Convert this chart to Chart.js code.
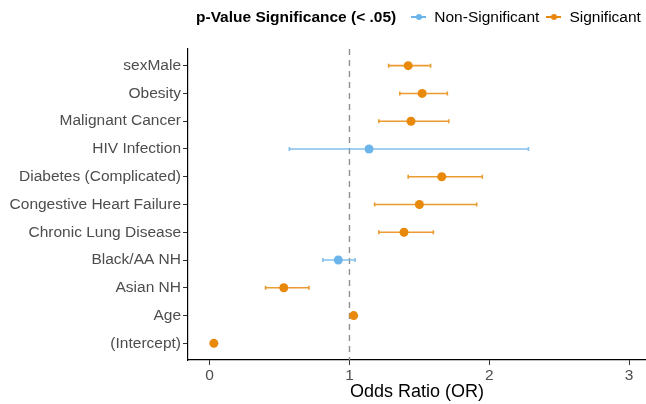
<!DOCTYPE html>
<html>
<head>
<meta charset="utf-8">
<script src="https://cdn.jsdelivr.net/npm/chart.js@4"></script>
<style>
  html, body { margin: 0; padding: 0; background: #fff; }
  #wrap { position: relative; width: 646px; height: 404px; font-family: "Liberation Sans", Arial, sans-serif; }
  #legend { position: absolute; top: 7px; left: 196px; height: 20px; display: flex; align-items: center; white-space: nowrap; font-size: 15.5px; color: #000; }
  #legend .ttl { font-weight: bold; margin-right: 15px; }
  #legend .key { position: relative; width: 15px; height: 20px; margin-right: 8px; }
  #legend .key .ln { position: absolute; left: 0; top: 9px; width: 15px; height: 2px; }
  #legend .key .dt { position: absolute; left: 4.5px; top: 7px; width: 6px; height: 6px; border-radius: 50%; }
  #legend .lbl { margin-right: 7px; }
</style>
</head>
<body>
<div id="wrap">
  <canvas id="forest" width="646" height="404"></canvas>
  <div id="legend"></div>
</div>
<script>
// terms, top to bottom
const terms = ["sexMale", "Obesity", "Malignant Cancer", "HIV Infection", "Diabetes (Complicated)",
  "Congestive Heart Failure", "Chronic Lung Disease", "Black/AA NH", "Asian NH", "Age", "(Intercept)"];
const oddsRatio = [1.42, 1.52, 1.44, 1.14, 1.66, 1.50, 1.39, 0.92, 0.53, 1.03, 0.03];
const ciLow = [1.28, 1.36, 1.21, 0.57, 1.42, 1.18, 1.21, 0.81, 0.40, 1.02, 0.02];
const ciHigh = [1.58, 1.70, 1.71, 2.28, 1.95, 1.91, 1.60, 1.04, 0.71, 1.04, 0.04];
const significant = [true, true, true, false, true, true, true, false, true, true, true];
const xTicks = [0, 1, 2, 3];

const colSig = "#E8890C";
const colNon = "#6CB5EA";
const font = "'Liberation Sans', Arial, sans-serif";

function pointsFor(flag) {
  const out = [];
  terms.forEach((t, i) => {
    if (significant[i] === flag) out.push({ x: oddsRatio[i], y: i, lo: ciLow[i], hi: ciHigh[i] });
  });
  return out;
}

// error bars + reference line, drawn with the chart's own scales
const forestLayer = {
  id: "forestLayer",
  beforeDatasetsDraw(chart) {
    const { ctx, chartArea, scales } = chart;
    const xs = scales.x, ys = scales.y;
    ctx.save();
    // dashed line at OR = 1
    const x1 = xs.getPixelForValue(1);
    ctx.strokeStyle = "#8f8f8f";
    ctx.lineWidth = 1.4;
    ctx.setLineDash([6, 5]);
    ctx.beginPath();
    ctx.moveTo(x1, chartArea.top);
    ctx.lineTo(x1, chartArea.bottom);
    ctx.stroke();
    ctx.setLineDash([]);
    // horizontal CI bars
    chart.data.datasets.forEach((ds) => {
      ctx.strokeStyle = ds.barColor;
      ctx.lineWidth = 1.6;
      ds.data.forEach((d) => {
        const y = ys.getPixelForValue(d.y);
        const a = xs.getPixelForValue(d.lo);
        const b = xs.getPixelForValue(d.hi);
        ctx.beginPath();
        ctx.moveTo(a, y); ctx.lineTo(b, y);
        ctx.moveTo(a, y - 2); ctx.lineTo(a, y + 2);
        ctx.moveTo(b, y - 2); ctx.lineTo(b, y + 2);
        ctx.stroke();
      });
    });
    ctx.restore();
  }
};

new Chart(document.getElementById("forest"), {
  type: "scatter",
  data: {
    datasets: [
      {
        label: "Non-Significant",
        data: pointsFor(false),
        backgroundColor: colNon,
        borderColor: colNon,
        barColor: "rgba(108, 181, 234, 0.85)",
        pointRadius: 4.5,
        borderWidth: 0,
      },
      {
        label: "Significant",
        data: pointsFor(true),
        backgroundColor: colSig,
        borderColor: colSig,
        barColor: "rgba(232, 137, 12, 0.85)",
        pointRadius: 4.5,
        borderWidth: 0,
      },
    ],
  },
  options: {
    responsive: false,
    animation: false,
    layout: { autoPadding: false, padding: { top: 49, right: 0, left: 0, bottom: 0 } },
    plugins: {
      legend: { display: false },
      tooltip: { enabled: false },
    },
    scales: {
      x: {
        type: "linear",
        min: -0.155,
        max: 3.121,
        afterBuildTicks: (s) => { s.ticks = xTicks.map((v) => ({ value: v })); },
        afterFit: (s) => { s.height = 44; s.paddingLeft = 0; s.paddingRight = 0; },
        ticks: {
          autoSkip: false,
          maxRotation: 0,
          padding: 1,
          color: "#4D4D4D",
          font: { family: font, size: 15.5 },
          callback: (v) => String(v),
        },
        grid: { drawOnChartArea: false, drawTicks: true, tickLength: 5, color: "#333333", lineWidth: 1 },
        border: { display: true, color: "#000000", width: 1.2 },
        title: {
          display: true,
          text: "Odds Ratio (OR)",
          color: "#000000",
          font: { family: font, size: 18 },
          padding: { top: 0, bottom: 1 },
        },
      },
      y: {
        type: "linear",
        reverse: true,
        min: -0.6,
        max: terms.length - 0.4,
        afterBuildTicks: (s) => { s.ticks = terms.map((t, i) => ({ value: i })); },
        afterFit: (s) => { s.width = 188; },
        ticks: {
          autoSkip: false,
          padding: 2,
          color: "#4D4D4D",
          font: { family: font, size: 15.5 },
          callback: (v) => terms[v],
        },
        grid: { drawOnChartArea: false, drawTicks: true, tickLength: 5, color: "#333333", lineWidth: 1 },
        border: { display: true, color: "#000000", width: 1.2 },
      },
    },
  },
  plugins: [forestLayer],
});

// legend row
const legend = document.getElementById("legend");
legend.innerHTML = '<span class="ttl">p-Value Significance (&lt; .05)</span>' +
  [["Non-Significant", colNon], ["Significant", colSig]].map(([name, c]) =>
    '<span class="key"><span class="ln" style="background:' + c + '"></span>' +
    '<span class="dt" style="background:' + c + '"></span></span><span class="lbl">' + name + '</span>'
  ).join("");
</script>
</body>
</html>
